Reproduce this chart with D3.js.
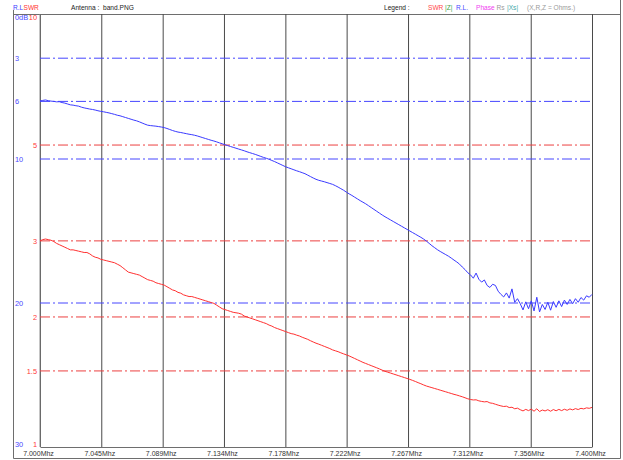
<!DOCTYPE html>
<html>
<head>
<meta charset="utf-8">
<script src="https://cdn.jsdelivr.net/npm/d3@7"></script>
<style>
  html, body { margin: 0; padding: 0; background: #fff; }
  svg { display: block; font-family: "Liberation Sans", Arial, sans-serif; }
</style>
</head>
<body>
<svg id="chart" width="623" height="460"></svg>
<script>
// Sweep: 7.000 - 7.400 MHz, one reading every 2 kHz
const sweepStartMhz = 7.000;
const sweepStepMhz = 0.002;

// Return loss (dB) per sweep point
const returnLossDb = [
  5.97,5.93,5.90,5.95,5.98,6.00,6.03,6.02,6.08,6.12,
  6.18,6.24,6.26,6.30,6.33,6.40,6.45,6.49,6.53,6.56,
  6.60,6.65,6.69,6.72,6.76,6.80,6.85,6.90,6.96,7.00,
  7.06,7.12,7.18,7.24,7.30,7.35,7.42,7.50,7.58,7.65,
  7.68,7.70,7.72,7.75,7.78,7.82,7.88,7.95,8.02,8.08,
  8.13,8.16,8.20,8.24,8.28,8.31,8.35,8.40,8.46,8.52,
  8.58,8.64,8.70,8.75,8.81,8.88,8.94,9.01,9.07,9.13,
  9.19,9.25,9.31,9.37,9.43,9.50,9.56,9.62,9.68,9.75,
  9.82,9.89,9.95,10.02,10.10,10.18,10.27,10.36,10.45,10.54,
  10.61,10.68,10.75,10.82,10.88,10.95,11.02,11.12,11.22,11.32,
  11.41,11.48,11.53,11.58,11.64,11.70,11.76,11.85,11.95,12.06,
  12.17,12.30,12.42,12.53,12.65,12.77,12.89,13.00,13.11,13.24,
  13.37,13.50,13.63,13.76,13.89,14.01,14.12,14.23,14.34,14.45,
  14.56,14.67,14.78,14.89,15.00,15.11,15.22,15.33,15.44,15.56,
  15.70,15.86,16.02,16.16,16.30,16.42,16.53,16.64,16.75,16.88,
  17.02,17.15,17.30,17.50,17.68,17.90,18.05,18.28,17.92,18.35,
  18.55,18.40,18.78,18.92,18.70,18.78,19.18,19.40,19.58,19.30,
  19.66,19.02,19.95,19.70,20.05,20.48,19.92,20.40,19.85,20.55,
  19.60,20.62,20.10,20.45,19.95,20.50,19.90,20.30,19.85,20.25,
  19.80,20.10,19.75,20.05,19.70,19.95,19.62,19.80,19.50,19.60,
  19.40
];

// SWR per sweep point
const swrValues = [
  3.00,3.02,3.03,3.02,3.01,2.99,2.96,2.94,2.92,2.90,
  2.88,2.86,2.86,2.85,2.84,2.83,2.82,2.82,2.80,2.77,
  2.75,2.74,2.72,2.71,2.70,2.69,2.68,2.67,2.65,2.63,
  2.60,2.57,2.54,2.53,2.52,2.51,2.50,2.48,2.46,2.44,
  2.43,2.42,2.40,2.39,2.38,2.37,2.35,2.33,2.31,2.30,
  2.28,2.27,2.25,2.24,2.23,2.23,2.22,2.21,2.20,2.19,
  2.18,2.17,2.16,2.15,2.13,2.11,2.09,2.08,2.07,2.06,
  2.05,2.045,2.04,2.03,2.01,2.00,1.99,1.98,1.97,1.96,
  1.95,1.94,1.93,1.915,1.905,1.89,1.88,1.87,1.86,1.85,
  1.84,1.83,1.825,1.815,1.807,1.795,1.785,1.775,1.762,1.75,
  1.739,1.73,1.72,1.71,1.70,1.69,1.678,1.67,1.662,1.652,
  1.643,1.634,1.625,1.614,1.603,1.592,1.581,1.57,1.561,1.552,
  1.543,1.534,1.525,1.516,1.506,1.497,1.49,1.483,1.476,1.469,
  1.462,1.455,1.448,1.441,1.434,1.426,1.418,1.409,1.401,1.392,
  1.384,1.378,1.372,1.366,1.36,1.354,1.348,1.342,1.336,1.330,
  1.324,1.319,1.313,1.307,1.300,1.293,1.288,1.285,1.286,1.279,
  1.275,1.272,1.274,1.265,1.262,1.256,1.250,1.245,1.241,1.243,
  1.234,1.236,1.226,1.230,1.220,1.212,1.222,1.214,1.224,1.210,
  1.226,1.208,1.218,1.212,1.220,1.210,1.221,1.213,1.222,1.214,
  1.223,1.216,1.225,1.219,1.227,1.221,1.229,1.225,1.232,1.229,
  1.235
];

// Frequency grid
const freqTicks = [7.000, 7.0444, 7.0889, 7.1333, 7.1778, 7.2222, 7.2667, 7.3111, 7.3556, 7.400];
const freqTickLabels = ["7.000Mhz","7.045Mhz","7.089Mhz","7.134Mhz","7.178Mhz","7.222Mhz","7.267Mhz","7.312Mhz","7.356Mhz","7.400Mhz"];

// Left scales: return loss (blue) and SWR (red)
const rlTicks = [0, 3, 6, 10, 20, 30];
const rlTickLabels = ["0dB", "3", "6", "10", "20", "30"];
const rlGrid = [3, 6, 10, 20];
const swrTicks = [1, 1.5, 2, 3, 5, 10];
const swrGrid = [1.5, 2, 3, 5];

// Header legend
const legendItems = [
  { text: "SWR", color: "#ff4a4a", x: 428 },
  { text: "|Z|", color: "#3fa03f", x: 445 },
  { text: "R.L.", color: "#4848ff", x: 456 },
  { text: "Phase", color: "#f040f0", x: 476 },
  { text: "Rs", color: "#9a9a9a", x: 496.5 },
  { text: "|Xs|", color: "#40a8a8", x: 507 },
  { text: "(X,R,Z = Ohms.)", color: "#9a9a9a", x: 527 }
];

const BLUE = "#3a3aff";
const RED = "#ff3030";
const plot = { left: 40, right: 592, top: 14, bottom: 447 };

const svg = d3.select("#chart");

const x = d3.scaleLinear().domain([7.0, 7.4]).range([plot.left, plot.right]);
const yRL = d3.scaleLinear().domain([0, 30]).range([15, plot.bottom]);
const ySWR = d3.scaleLog().domain([1, 10]).range([plot.bottom, 15]);

const freqs = returnLossDb.map((_, i) => sweepStartMhz + i * sweepStepMhz);

// Outer frame
svg.append("path")
  .attr("d", `M13.5,10 V458.5 H620.5 V0 M13,14.5 H620.5`)
  .attr("fill", "none")
  .attr("stroke", "#6e6e6e")
  .attr("stroke-width", 1);

// Header
const header = svg.append("g").attr("font-size", 6.6).attr("dominant-baseline", "central");
header.append("text").attr("x", 13).attr("y", 7).attr("fill", BLUE).text("R.L");
header.append("text").attr("x", 23.5).attr("y", 7).attr("fill", RED).text("SWR");
header.append("text").attr("x", 71).attr("y", 7).attr("fill", "#222").text("Antenna :");
header.append("text").attr("x", 103).attr("y", 7).attr("fill", "#222").text("band.PNG");
header.append("text").attr("x", 384).attr("y", 7).attr("fill", "#222").text("Legend :");
header.selectAll("text.legend")
  .data(legendItems)
  .join("text")
  .attr("class", "legend")
  .attr("x", d => d.x)
  .attr("y", 7)
  .attr("fill", d => d.color)
  .text(d => d.text);

// Vertical frequency grid with labels
const xAxis = d3.axisBottom(x)
  .tickValues(freqTicks)
  .tickFormat((d, i) => freqTickLabels[i])
  .tickSize(-(plot.bottom - plot.top))
  .tickSizeOuter(0)
  .tickPadding(4);

const gx = svg.append("g")
  .attr("transform", `translate(0,${plot.bottom})`)
  .call(xAxis);
gx.select(".domain").attr("stroke", "#6e6e6e");
gx.selectAll(".tick line").attr("stroke", "#4a4a4a");
gx.selectAll(".tick text")
  .attr("font-size", 7)
  .attr("font-family", "Liberation Sans, Arial, sans-serif")
  .attr("fill", "#333")
  .attr("dx", -2);

// Left axis line
svg.append("line")
  .attr("x1", plot.left).attr("x2", plot.left)
  .attr("y1", plot.top).attr("y2", plot.bottom)
  .attr("stroke", "#8a8a8a");

// Dash-dot reference lines
const dash = "10,3,2,3";
svg.append("g").selectAll("line")
  .data(swrGrid)
  .join("line")
  .attr("x1", plot.left).attr("x2", 590)
  .attr("y1", d => ySWR(d)).attr("y2", d => ySWR(d))
  .attr("stroke", "#ec4040")
  .attr("stroke-dasharray", dash);

svg.append("g").selectAll("line")
  .data(rlGrid)
  .join("line")
  .attr("x1", plot.left).attr("x2", 590)
  .attr("y1", d => yRL(d)).attr("y2", d => yRL(d))
  .attr("stroke", "#4646ff")
  .attr("stroke-dasharray", dash);

// Left tick labels (kept inside the plot's vertical extent)
const clampY = (g) => g.selectAll(".tick").attr("transform", function () {
  const t = d3.select(this).attr("transform");
  const y = +t.match(/,\s*([-\d.]+)\)/)[1];
  return `translate(0,${Math.min(Math.max(y, 18), 445)})`;
});

const gRL = svg.append("g")
  .attr("transform", "translate(15,0)")
  .call(d3.axisRight(yRL).tickValues(rlTicks).tickFormat((d, i) => rlTickLabels[i]).tickSize(0).tickPadding(0));
gRL.select(".domain").remove();
gRL.selectAll(".tick text").attr("font-size", 7.4).attr("fill", "#4848ff")
  .attr("font-family", "Liberation Sans, Arial, sans-serif");
clampY(gRL);

const gSWR = svg.append("g")
  .attr("transform", "translate(37,0)")
  .call(d3.axisLeft(ySWR).tickValues(swrTicks).tickFormat(d3.format("")).tickSize(0).tickPadding(0));
gSWR.select(".domain").remove();
gSWR.selectAll(".tick text").attr("font-size", 7.4).attr("fill", "#ff3a3a")
  .attr("font-family", "Liberation Sans, Arial, sans-serif");
clampY(gSWR);

// Measurement traces
const rlLine = d3.line().x((d, i) => x(freqs[i])).y(d => yRL(d));
const swrLine = d3.line().x((d, i) => x(freqs[i])).y(d => ySWR(d));

svg.append("path")
  .datum(returnLossDb)
  .attr("d", rlLine)
  .attr("fill", "none")
  .attr("stroke", BLUE)
  .attr("stroke-width", 1);

svg.append("path")
  .datum(swrValues)
  .attr("d", swrLine)
  .attr("fill", "none")
  .attr("stroke", RED)
  .attr("stroke-width", 1);
</script>
</body>
</html>
